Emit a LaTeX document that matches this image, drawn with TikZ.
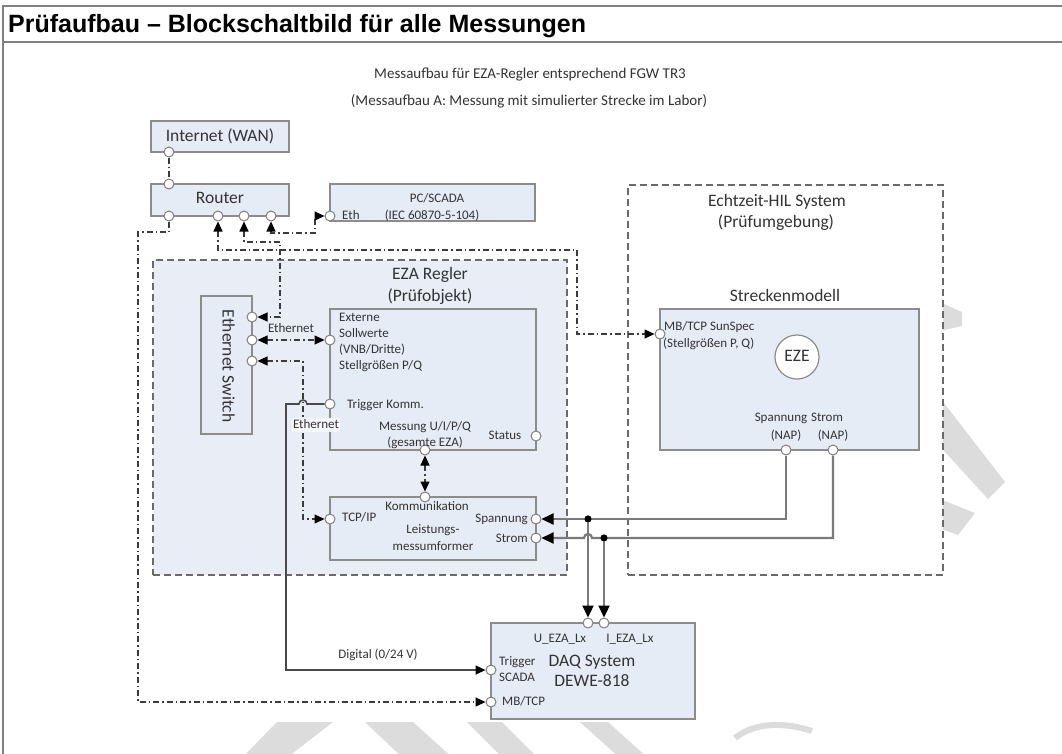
\documentclass[tikz,border=0pt]{standalone}
\usepackage{fontspec}
\setmainfont{Carlito}
\newfontfamily\titlefont{Liberation Sans}
\usetikzlibrary{arrows.meta}
\definecolor{boxfill}{HTML}{E6ECF6}
\definecolor{regfill}{HTML}{E8EDF6}
\definecolor{boxline}{HTML}{8C8C8C}
\definecolor{regline}{HTML}{6A6A6A}
\definecolor{portline}{HTML}{7F7F7F}
\definecolor{connc}{HTML}{3C3C3C}
\definecolor{trigc}{HTML}{4A4A4A}
\definecolor{powc}{HTML}{7A7A7A}
\definecolor{txt}{HTML}{333333}
\definecolor{framec}{HTML}{7F7F7F}
\definecolor{wmc}{HTML}{DCDCDC}
\begin{document}
\begin{tikzpicture}[x=1pt,y=-1pt,
  box/.style={draw=boxline, fill=boxfill, line width=1.2pt, inner sep=0pt},
  region/.style={draw=regline, line width=1.5pt, dash pattern=on 7pt off 4pt, inner sep=0pt},
  port/.style={circle, draw=portline, fill=white, line width=1pt, minimum size=10pt, inner sep=0pt},
  jdot/.style={circle, fill=black, minimum size=7pt, inner sep=0pt},
  conn/.style={draw=connc, line width=1.2pt, dash pattern=on 6pt off 3pt on 1.5pt off 3pt},
  trig/.style={draw=trigc, line width=1.6pt},
  power/.style={draw=powc, line width=2.2pt, >={Triangle[length=12pt,width=11pt,color=black]}},
  >={Triangle[length=10pt,width=9pt,color=black]},
  lg/.style={font=\fontsize{17.5}{21}\selectfont, text=txt, inner sep=0pt, text height=12.5pt, text depth=3.5pt},
  sm/.style={font=\fontsize{13}{15}\selectfont, text=txt, inner sep=0pt, text height=9pt, text depth=2.5pt},
  wm/.style={fill=wmc, draw=none}
]
\useasboundingbox (0,0) rectangle (1062,753);
\clip (0,0) rectangle (1062,753);
\fill[white] (0,0) rectangle (1062,753);

% watermark fragments
\fill[wm] (277,722) -- (333,722) -- (284,760) -- (240,760) -- cycle;
\fill[wm] (365,722) -- (413,722) -- (455,760) -- (405,760) -- cycle;
\fill[wm] (467,722) -- (502,722) -- (540,760) -- (505,760) -- cycle;
\fill[wm] (580,722) -- (608,722) -- (650,760) -- (622,760) -- cycle;
\draw[wmc, line width=6pt] (735,738) .. controls (755,722) and (785,722) .. (812,731);
\fill[wm] (930,385) -- (1005,482) -- (988,499) -- (925,430) -- cycle;
\fill[wm] (930,495) -- (975,513) -- (958,535) -- (930,525) -- cycle;
\fill[wm] (935,300) -- (962,312) -- (962,326) -- (935,332) -- cycle;

% frame and title
\draw[framec, line width=1.2pt] (3,760) -- (3,6) -- (1070,6);
\draw[framec, line width=1.6pt] (3,42) -- (1070,42);
\node[anchor=base west, font=\fontsize{25}{29}\titlefont\bfseries, inner sep=0pt] (title) at (8,32) {Prüfaufbau – Blockschaltbild für alle Messungen};
\node[font=\fontsize{15}{18}\selectfont, text=txt, inner sep=0pt] (sub1) at (530,75) {Messaufbau für EZA-Regler entsprechend FGW TR3};
\node[font=\fontsize{15}{18}\selectfont, text=txt, inner sep=0pt] (sub2) at (529,101) {(Messaufbau A: Messung mit simulierter Strecke im Labor)};

% regions
\node[region, fill=regfill, minimum width=414pt, minimum height=315pt] (eza) at (360,417.5) {};
\node[region, fill=white, minimum width=315pt, minimum height=390pt] (hil) at (785.5,380) {};

% boxes
\node[box, minimum width=138pt, minimum height=31pt] (inet) at (220,136.5) {};
\node[box, minimum width=138pt, minimum height=32pt] (router) at (220,200) {};
\node[box, minimum width=205pt, minimum height=37pt] (pc) at (432.5,202.5) {};
\node[box, minimum width=51pt, minimum height=138pt] (switch) at (226.5,365) {};
\node[box, minimum width=206pt, minimum height=141pt] (ext) at (433,379.5) {};
\node[box, minimum width=206pt, minimum height=63pt] (lmu) at (433,528.5) {};
\node[box, minimum width=259pt, minimum height=141pt] (strecke) at (789.5,379.5) {};
\node[circle, draw=boxline, fill=white, line width=1.2pt, minimum size=44pt, inner sep=0pt] (eze) at (797,357) {};
\node[box, minimum width=204pt, minimum height=96pt] (daq) at (593,671) {};

% ports
\node[port] (ib) at (169,152) {};
\node[port] (rt) at (169,184) {};
\node[port] (rb1) at (169,216) {};
\node[port] (rb2) at (218,216) {};
\node[port] (rb3) at (244,216) {};
\node[port] (rb4) at (271,216) {};
\node[port] (eth) at (330,216) {};
\node[port] (sw1) at (252,317) {};
\node[port] (sw2) at (252,340) {};
\node[port] (sw3) at (252,361) {};
\node[port] (exin) at (330,340) {};
\node[port] (tk) at (330,404) {};
\node[port] (st) at (536,436) {};
\node[port] (mb) at (425,450) {};
\node[port] (komm) at (425,497) {};
\node[port] (tcp) at (330,519) {};
\node[port] (spg) at (536,519) {};
\node[port] (stm) at (536,538) {};
\node[port] (mbh) at (660,334) {};
\node[port] (nu) at (786,450) {};
\node[port] (ni) at (833,450) {};
\node[port] (du) at (588,623) {};
\node[port] (di) at (604,623) {};
\node[port] (dtr) at (491,670) {};
\node[port] (dmb) at (491,702) {};
\node[jdot] (j1) at (588,519) {};
\node[jdot] (j2) at (604,538) {};

% connectors
\draw[conn] (ib) -- (rt);
\draw[conn,->] (rb1) -- (169,232) -- (138,232) -- (138,702) -- (dmb);
\draw[conn,<->] (rb2) -- (218,250) -- (577,250) -- (577,334) -- (mbh);
\draw[conn,<->] (rb3) -- (244,242) -- (280,242) -- (280,317) -- (sw1);
\draw[conn,<->] (rb4) -- (271,233) -- (315,233) -- (315,216) -- (eth);
\draw[conn,<->] (sw2) -- (exin);
\draw[conn,<->] (sw3) -- (303,361) -- (303,519) -- (tcp);
\draw[conn,<->] (mb) -- (komm);
\draw[trig,->] (tk) -- (307,404) arc[start angle=0,end angle=180,radius=4pt] -- (286,404) -- (286,670) -- (dtr);
\draw[power,->] (nu) -- (786,519) -- (spg);
\draw[power,->] (ni) -- (833,538) -- (592,538) arc[start angle=0,end angle=180,radius=4pt] -- (stm);
\draw[power,->] (j1) -- (du);
\draw[power,->] (j2) -- (di);
\node[jdot] at (j1) {};
\node[jdot] at (j2) {};

% texts
\node[lg] (tinet) at (220,137) {Internet (WAN)};
\node[lg] (trouter) at (220,199) {Router};
\node[sm] (tpc1) at (437,199) {PC/SCADA};
\node[sm] (tpc2) at (432,216) {(IEC 60870-5-104)};
\node[sm, anchor=west] (teth) at (342,216) {Eth};
\node[lg] (teza1) at (430,275) {EZA Regler};
\node[lg] (teza2) at (430,297) {(Prüfobjekt)};
\node[lg, rotate=-90] (tsw) at (227,366) {Ethernet Switch};
\node[sm] (tethA) at (291,329) {Ethernet};
\node[sm, fill=white!55!regfill, inner sep=1pt] (tethB) at (316,425) {Ethernet};
\node[sm, anchor=west] (tx1) at (339,318) {Externe};
\node[sm, anchor=west] (tx2) at (339,334) {Sollwerte};
\node[sm, anchor=west] (tx3) at (339,350) {(VNB/Dritte)};
\node[sm, anchor=west] (tx4) at (339,366) {Stellgrößen P/Q};
\node[sm, anchor=west] (ttk) at (347,405) {Trigger Komm.};
\node[sm] (tmess1) at (425,427) {Messung U/I/P/Q};
\node[sm] (tmess2) at (425,443) {(gesamte EZA)};
\node[sm] (tstat) at (505,436) {Status};
\node[sm] (tkomm) at (427,507) {Kommunikation};
\node[sm, anchor=west] (ttcp) at (342,518) {TCP/IP};
\node[sm, anchor=east] (tspg) at (528,519) {Spannung};
\node[sm, anchor=east] (tstm) at (528,539) {Strom};
\node[sm] (tlmu1) at (433,530) {Leistungs-};
\node[sm] (tlmu2) at (433,547) {messumformer};
\node[lg] (thil1) at (777,202) {Echtzeit-HIL System};
\node[lg] (thil2) at (776,223) {(Prüfumgebung)};
\node[lg] (tstr) at (785,297) {Streckenmodell};
\node[sm, anchor=west] (tmbh1) at (664,327) {MB/TCP SunSpec};
\node[sm, anchor=west] (tmbh2) at (663,344) {(Stellgrößen P, Q)};
\node[lg] (teze) at (797,357) {EZE};
\node[sm] (tnu1) at (781,418) {Spannung};
\node[sm] (tni1) at (827,418) {Strom};
\node[sm] (tnu2) at (786,436) {(NAP)};
\node[sm] (tni2) at (833,436) {(NAP)};
\node[sm] (tdu) at (560,639) {U\_EZA\_Lx};
\node[sm] (tdi) at (630,639) {I\_EZA\_Lx};
\node[lg] (tdaq1) at (592,662) {DAQ System};
\node[lg] (tdaq2) at (592,682) {DEWE-818};
\node[sm, anchor=west] (ttr1) at (499,662) {Trigger};
\node[sm, anchor=west] (ttr2) at (499,678) {SCADA};
\node[sm, anchor=west] (tdmb) at (502,702) {MB/TCP};
\node[sm] (tdig) at (378,655) {Digital (0/24 V)};
\end{tikzpicture}
\end{document}
